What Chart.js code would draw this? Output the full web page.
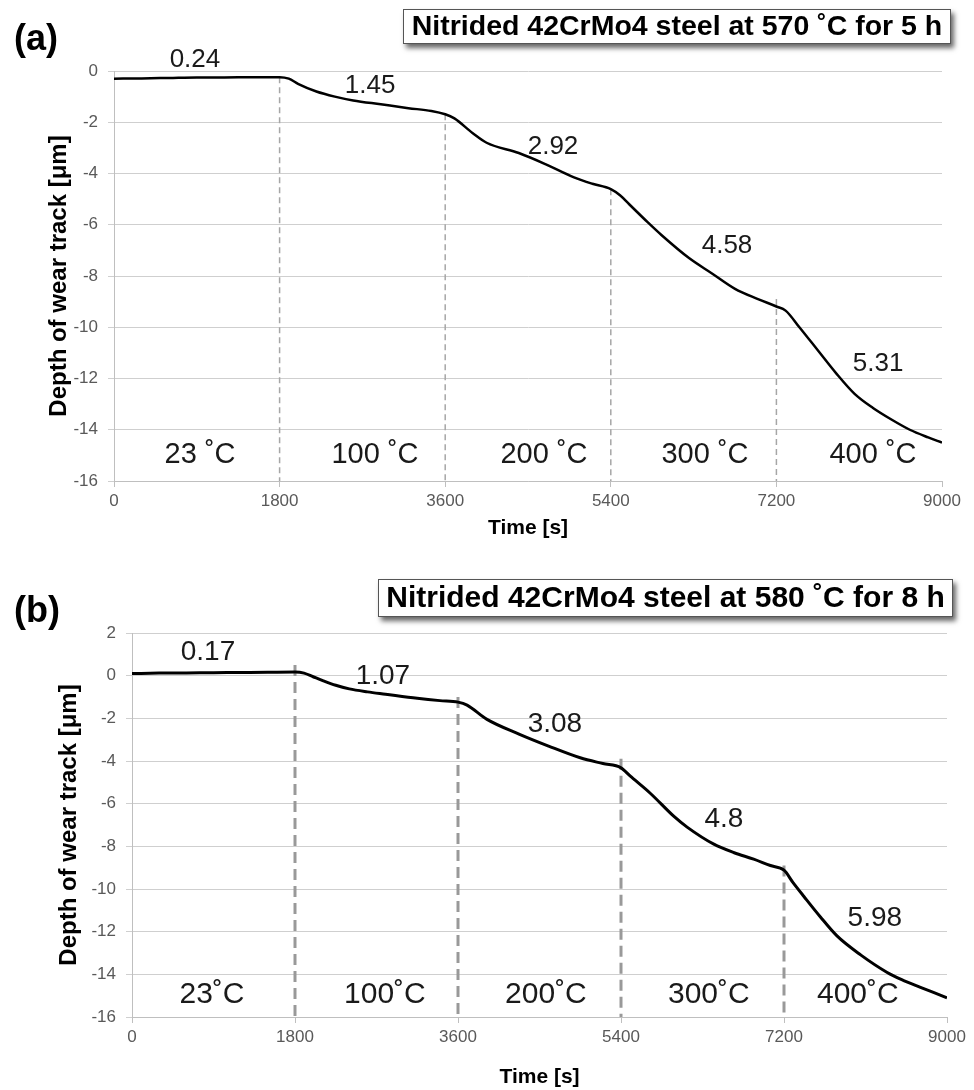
<!DOCTYPE html>
<html>
<head>
<meta charset="utf-8">
<script src="https://cdn.jsdelivr.net/npm/chart.js@4.4.1/dist/chart.umd.min.js"></script>
<style>
  body { margin: 0; background: #fff; }
  .panel { position: absolute; left: 0; width: 974px; height: 545px; }
</style>
</head>
<body>
<div class="panel" style="top:0"><canvas id="chartA" width="974" height="545"></canvas></div>
<div class="panel" style="top:545px"><canvas id="chartB" width="974" height="545"></canvas></div>
<script>
// Stage boundaries (s) and stage temperatures
const stageEnds = [1800, 3600, 5400, 7200];
const stageTemps = ['23', '100', '200', '300', '400'];

// (a) 570 °C / 5 h : wear depth per stage and measured track depth
const wearA = [0.24, 1.45, 2.92, 4.58, 5.31];
const timeA = [0, 300, 600, 900, 1200, 1500, 1800, 1900, 2000, 2200, 2400, 2600, 2900, 3200, 3450, 3600,
  3700, 3900, 4050, 4400, 4700, 5000, 5200, 5400, 5500, 5600, 5800, 5950, 6250, 6500, 6750, 7000, 7200,
  7300, 7450, 7650, 7850, 8050, 8250, 8450, 8650, 8850, 9000];
const depthA = [-0.30, -0.29, -0.27, -0.25, -0.25, -0.24, -0.24, -0.30, -0.50, -0.80, -1.00, -1.15, -1.30, -1.45, -1.56, -1.69,
  -1.85, -2.43, -2.80, -3.20, -3.65, -4.15, -4.40, -4.61, -4.85, -5.20, -5.90, -6.40, -7.30, -7.90, -8.50, -8.90, -9.19,
  -9.35, -10.0, -10.9, -11.8, -12.6, -13.15, -13.6, -14.0, -14.3, -14.50];
const dashTopA = [-0.24, -1.69, -4.61, -8.9];

// (b) 580 °C / 8 h
const wearB = [0.17, 1.07, 3.08, 4.8, 5.98];
const timeB = [0, 300, 600, 900, 1200, 1500, 1800, 1900, 2000, 2100, 2250, 2400, 2600, 2800, 3150, 3400, 3600,
  3700, 3920, 4280, 4600, 4950, 5200, 5400, 5500, 5720, 5985, 6130, 6425, 6650, 6865, 7050, 7200,
  7300, 7420, 7600, 7785, 8050, 8335, 8500, 8700, 8850, 9000];
const depthB = [0.10, 0.12, 0.13, 0.14, 0.15, 0.16, 0.17, 0.12, -0.05, -0.22, -0.45, -0.62, -0.76, -0.87, -1.06, -1.17, -1.24,
  -1.38, -2.05, -2.75, -3.30, -3.85, -4.12, -4.32, -4.70, -5.50, -6.60, -7.10, -7.90, -8.30, -8.60, -8.90, -9.12,
  -9.70, -10.35, -11.3, -12.2, -13.1, -13.9, -14.25, -14.6, -14.85, -15.10];
const dashTopB = [0.5, -1.0, -3.9, -8.9];

// where the annotations sit, in axis units
const wearLabelXA = [880, 2783, 4772, 6663, 8305];
const wearLabelYA = [0.43, -0.59, -2.97, -6.83, -11.43];
const tempLabelXA = [935, 2837, 4674, 6424, 8250];
const wearLabelXB = [839, 2771, 4670, 6536, 8203];
const wearLabelYB = [1.08, -0.05, -2.3, -6.75, -11.35];
const tempLabelXB = [883, 2793, 4571, 6370, 8015];

Chart.defaults.font.family = "'Liberation Sans', Arial, sans-serif";

const annotate = {
  id: 'annotate',
  afterDatasetsDraw(chart) {
    const o = chart.options.plugins.annotate;
    const {ctx} = chart;
    const xs = chart.scales.x, ys = chart.scales.y;
    ctx.save();
    ctx.fillStyle = '#1a1a1a';
    ctx.textAlign = 'center';
    ctx.textBaseline = 'middle';
    ctx.font = o.wearSize + "px 'Liberation Sans', Arial, sans-serif";
    o.wear.forEach((w, i) => {
      ctx.fillText(String(w), xs.getPixelForValue(o.wearX[i]), ys.getPixelForValue(o.wearY[i]));
    });
    ctx.font = o.tempSize + "px 'Liberation Sans', Arial, sans-serif";
    stageTemps.forEach((t, i) => {
      ctx.fillText(t + o.degree, xs.getPixelForValue(o.tempX[i]), ys.getPixelForValue(o.tempY));
    });
    ctx.restore();
  },
  afterDraw(chart) {
    const o = chart.options.plugins.annotate;
    const {ctx} = chart;
    const b = o.box;
    ctx.save();
    // title box with drop shadow
    ctx.shadowColor = 'rgba(0,0,0,0.6)';
    ctx.shadowOffsetX = 3;
    ctx.shadowOffsetY = 4;
    ctx.shadowBlur = 5;
    ctx.fillStyle = '#fff';
    ctx.fillRect(b.x, b.y, b.w, b.h);
    ctx.shadowColor = 'transparent';
    ctx.strokeStyle = '#555';
    ctx.lineWidth = 1;
    ctx.strokeRect(b.x + 0.5, b.y + 0.5, b.w - 1, b.h - 1);
    ctx.fillStyle = '#000';
    ctx.textAlign = 'center';
    ctx.textBaseline = 'middle';
    ctx.font = "bold " + b.size + "px 'Liberation Sans', Arial, sans-serif";
    ctx.fillText(o.title, b.x + b.w / 2, b.y + b.h / 2 + 1);
    // panel letter
    ctx.textAlign = 'left';
    ctx.textBaseline = 'alphabetic';
    ctx.font = "bold 36px 'Liberation Sans', Arial, sans-serif";
    ctx.fillText(o.letter, 14, o.letterY);
    ctx.restore();
  }
};

function buildPanel(id, p) {
  const curve = {
    data: p.time.map((t, i) => ({x: t, y: p.depth[i]})),
    borderColor: '#000',
    borderWidth: p.curveWidth,
    pointRadius: 0,
    cubicInterpolationMode: 'monotone',
    order: 0
  };
  const dashes = stageEnds.map((t, i) => ({
    data: [{x: t, y: p.dashTop[i]}, {x: t, y: p.yMin}],
    borderColor: p.dashColor,
    borderWidth: p.dashWidth,
    borderDash: p.dash,
    pointRadius: 0,
    order: 1
  }));

  return new Chart(document.getElementById(id), {
    type: 'line',
    data: {datasets: [curve, ...dashes]},
    plugins: [annotate],
    options: {
      responsive: false,
      animation: false,
      layout: {padding: p.pad},
      plugins: {
        legend: {display: false},
        tooltip: {enabled: false},
        annotate: p.notes
      },
      scales: {
        x: {
          type: 'linear',
          min: 0, max: 9000,
          afterFit: s => { s.height = p.xHeight; },
          ticks: {stepSize: 1800, color: '#595959', font: {size: 17}, padding: 4, callback: v => String(v)},
          grid: {drawOnChartArea: false, drawTicks: true, tickLength: 6, color: '#bfbfbf'},
          border: {color: '#bfbfbf'},
          title: {display: true, text: 'Time [s]', color: '#000', font: {size: 21, weight: 'bold'},
                  padding: {top: 0, bottom: p.xTitlePad}}
        },
        y: {
          min: p.yMin, max: p.yMax,
          afterFit: s => { s.width = p.yWidth; },
          ticks: {stepSize: 2, color: '#595959', font: {size: 17}, padding: 10},
          grid: {color: '#cfcfcf', tickLength: 6},
          border: {color: '#bfbfbf'},
          title: {display: true, text: 'Depth of wear track [μm]', color: '#000', font: {size: 24, weight: 'bold'},
                  padding: {top: p.yTitlePad, bottom: 0}}
        }
      }
    }
  });
}

buildPanel('chartA', {
  time: timeA, depth: depthA, dashTop: dashTopA,
  yMin: -16, yMax: 0, yWidth: 114, xHeight: 64, yTitlePad: 45, xTitlePad: 4,
  pad: {top: 71, right: 32, bottom: 0, left: 0},
  curveWidth: 2.5, dashColor: '#a6a6a6', dashWidth: 1.5, dash: [6, 4],
  notes: {
    wear: wearA, wearX: wearLabelXA, wearY: wearLabelYA, wearSize: 26,
    tempX: tempLabelXA, tempY: -15.0, tempSize: 29, degree: ' ˚C',
    title: 'Nitrided 42CrMo4 steel at 570 ˚C for 5 h', letter: '(a)', letterY: 50,
    box: {x: 403, y: 9, w: 548, h: 35, size: 28.5}
  }
});

buildPanel('chartB', {
  time: timeB, depth: depthB, dashTop: dashTopB,
  yMin: -16, yMax: 2, yWidth: 132, xHeight: 73, yTitlePad: 55, xTitlePad: 0,
  pad: {top: 88, right: 27, bottom: 0, left: 0},
  curveWidth: 3, dashColor: '#999999', dashWidth: 3, dash: [11, 6],
  notes: {
    wear: wearB, wearX: wearLabelXB, wearY: wearLabelYB, wearSize: 28,
    tempX: tempLabelXB, tempY: -14.95, tempSize: 30, degree: '˚C',
    title: 'Nitrided 42CrMo4 steel at 580 ˚C for 8 h', letter: '(b)', letterY: 77,
    box: {x: 378, y: 34, w: 575, h: 38, size: 30}
  }
});
</script>
</body>
</html>
